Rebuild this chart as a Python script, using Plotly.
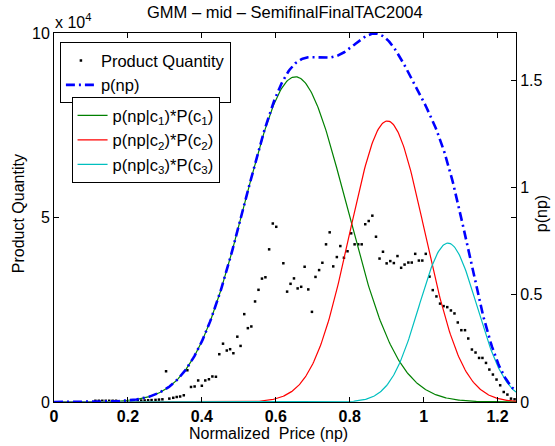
import numpy as np
import plotly.graph_objects as go

# ---- data ----
price_np = [0.112, 0.1213, 0.1307, 0.14, 0.1493, 0.1587, 0.168,
            0.2267, 0.236, 0.2453, 0.2547, 0.264, 0.2747, 0.284, 0.2933,
            0.3032, 0.312, 0.3227, 0.332, 0.3413, 0.3512, 0.3608, 0.3707, 0.3805,
            0.3901, 0.4, 0.4093, 0.4192, 0.4285, 0.4381, 0.4472, 0.4573, 0.4675,
            0.4765, 0.4853, 0.496, 0.5048, 0.5147, 0.5245, 0.5339, 0.544, 0.5533,
            0.5627, 0.572, 0.5821, 0.592, 0.6013, 0.6205, 0.6307, 0.64, 0.6493,
            0.6592, 0.6688, 0.6781, 0.688, 0.6979, 0.7075, 0.7173, 0.7261, 0.736,
            0.7459, 0.7555, 0.7653, 0.7747, 0.7845, 0.7941, 0.804, 0.8133, 0.8232,
            0.8325, 0.8421, 0.8515, 0.8613, 0.8712, 0.8808, 0.8901, 0.9, 0.9099,
            0.9195, 0.9293, 0.9392, 0.9485, 0.9587, 0.968, 0.9773, 0.9872, 0.9965,
            1.0059, 1.016, 1.0248, 1.0347, 1.0445, 1.0541, 1.064, 1.0739, 1.0835,
            1.0925, 1.1021, 1.112, 1.1208, 1.1307, 1.1405, 1.1501, 1.1592, 1.1688,
            1.1779, 1.1875, 1.1973, 1.2072, 1.2168, 1.2267, 1.2365, 1.2461]
quantity = [330, 330, 330, 330, 330, 330, 330,
            380, 380, 410, 460, 520, 570, 650, 730,
            8330, 920, 1140, 1360, 1490, 1820, 8600, 4070, 4210,
            5840, 4400, 5840, 6160, 6920, 6840, 12950, 15800, 13950,
            14310, 13220, 17700, 15200, 23810, 20010, 20470, 27250, 30400,
            33440, 33800, 41370, 48370, 47480, 37600, 29910, 32030, 33500,
            30780, 31220, 36650, 30510, 24430, 33900, 35750, 37730, 42730,
            45980, 36750, 39280, 42260, 39090, 40850, 45710, 42730, 42730,
            42730, 48180, 49050, 50490, 44790, 38870, 40720, 37570, 38190,
            37650, 39550, 36370, 37240, 37790, 37790, 40150, 38330, 38330,
            40150, 33980, 30320, 28610, 26660, 25980, 25710, 24810, 24000,
            21550, 19460, 19460, 17210, 14220, 13410, 11940, 11940, 10590,
            8790, 7440, 6080, 4530, 2710, 2010, 920, 730]

# Gaussian mixture components
comp_means = [0.653, 0.902, 1.066]
comp_sigmas = [0.138, 0.101, 0.078]
comp_weights = [0.525, 0.332, 0.145]
comp_names = ["p(np|c<sub>1</sub>)*P(c<sub>1</sub>)",
              "p(np|c<sub>2</sub>)*P(c<sub>2</sub>)",
              "p(np|c<sub>3</sub>)*P(c<sub>3</sub>)"]
comp_colors = ["#008000", "#ff0000", "#00bfbf"]

x_ticks = [0, 0.2, 0.4, 0.6, 0.8, 1.0, 1.2]
x_ticklabels = ["0", "0.2", "0.4", "0.6", "0.8", "1", "1.2"]
yl_ticks = [0, 50000, 100000]
yl_ticklabels = ["0", "5", "10"]
yr_ticks = [0, 0.5, 1, 1.5]
yr_ticklabels = ["0", "0.5", "1", "1.5"]

FONT = "Liberation Sans, Arial, Helvetica, sans-serif"

xs = np.linspace(0, 1.25, 501)
comps = []
for m, s, w in zip(comp_means, comp_sigmas, comp_weights):
    comps.append(w / (s * np.sqrt(2 * np.pi)) * np.exp(-0.5 * ((xs - m) / s) ** 2))
total = np.sum(comps, axis=0)

fig = go.Figure()
fig.add_trace(go.Scatter(x=price_np, y=quantity, mode="markers", name="Product Quantity",
                         marker=dict(color="black", size=2.5, symbol="square"),
                         legend="legend", yaxis="y"))
for c, nm, col in zip(comps, comp_names, comp_colors):
    fig.add_trace(go.Scatter(x=xs, y=c, mode="lines", name=nm,
                             line=dict(color=col, width=1.2),
                             legend="legend2", yaxis="y2"))
fig.add_trace(go.Scatter(x=xs, y=total, mode="lines", name="p(np)",
                         line=dict(color="#0000ff", width=2.6, dash="9px,4px,2px,4px"),
                         legend="legend", yaxis="y2"))

axis_common = dict(showline=True, linecolor="black", linewidth=1, ticks="inside",
                   ticklen=5, tickcolor="black", showgrid=False, zeroline=False)

fig.update_layout(
    width=555, height=446,
    margin=dict(l=54, r=32, t=33, b=44),
    paper_bgcolor="white", plot_bgcolor="white",
    font=dict(family=FONT, size=16, color="black"),
    xaxis=dict(range=[0, 1.25], tickvals=x_ticks, ticktext=x_ticklabels,
               mirror="ticks", tickfont=dict(size=16, weight="bold"), **axis_common),
    yaxis=dict(range=[0, 100000], tickvals=yl_ticks, ticktext=yl_ticklabels,
               mirror="ticks", tickfont=dict(size=16), **axis_common),
    yaxis2=dict(range=[0, 1.722], tickvals=yr_ticks, ticktext=yr_ticklabels,
                overlaying="y", side="right", tickfont=dict(size=16), **axis_common),
    legend=dict(x=0.0128, y=0.975, xanchor="left", yanchor="top",
                bordercolor="black", borderwidth=1, bgcolor="white",
                font=dict(size=16.5), tracegroupgap=0, itemwidth=30),
    legend2=dict(x=0.038, y=0.826, xanchor="left", yanchor="top",
                 bordercolor="black", borderwidth=1, bgcolor="white",
                 font=dict(size=16.5), tracegroupgap=0, itemwidth=30),
    showlegend=True,
)

fig.add_annotation(text="GMM – mid – SemifinalFinalTAC2004", xref="paper", yref="paper",
                   x=0.5, y=1.056, xanchor="center", yanchor="middle",
                   showarrow=False, font=dict(size=16.5))
fig.add_annotation(text="x 10<sup>4</sup>", xref="paper", yref="paper",
                   x=-0.003, y=1.0, xanchor="left", yanchor="bottom",
                   showarrow=False, font=dict(size=16))
fig.add_annotation(text="Normalized  Price (np)", xref="paper", yref="paper",
                   x=0.465, y=-0.085, xanchor="center", yanchor="middle",
                   showarrow=False, font=dict(size=16))
fig.add_annotation(text="Product Quantity", xref="paper", yref="paper",
                   x=-0.077, y=0.51, xanchor="center", yanchor="middle", textangle=-90,
                   showarrow=False, font=dict(size=16))
fig.add_annotation(text="p(np)", xref="paper", yref="paper",
                   x=1.055, y=0.51, xanchor="center", yanchor="middle", textangle=-90,
                   showarrow=False, font=dict(size=16))

fig.write_html("out.html", config={"displayModeBar": False},
               post_script="document.body.style.margin='0px';")
